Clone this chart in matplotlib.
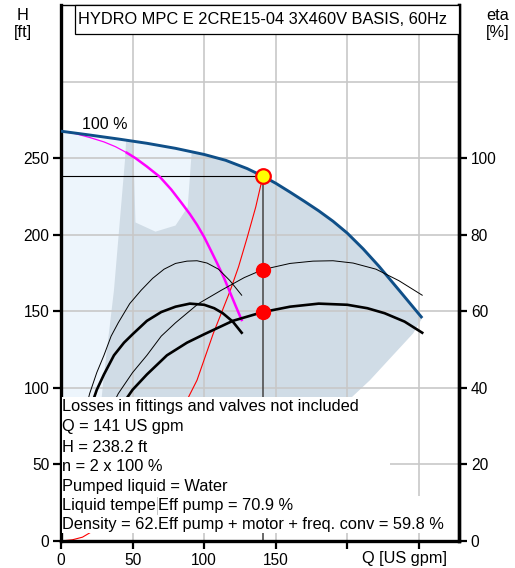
import numpy as np
import matplotlib
matplotlib.use("Agg")
import matplotlib.pyplot as plt
from matplotlib.patches import Rectangle, Polygon
from matplotlib.lines import Line2D

plt.rcParams['font.family'] = ['Liberation Sans', 'DejaVu Sans']

# ---------------- data ----------------
title = "HYDRO MPC E 2CRE15-04 3X460V BASIS, 60Hz"

# 2 pumps at 100 % (blue)
pump_q = [0, 20, 40, 60, 80, 100, 115, 130, 141, 150, 160, 170, 180, 190, 200, 211, 222, 237, 252.3]
pump_h = [267.6, 265.1, 262.5, 259.7, 256.4, 252.4, 248.6, 243.2, 238.2, 233.6, 227.8, 221.8,
          215.6, 208.8, 201, 190.8, 179.5, 162.8, 145.6]

# 1 pump at 100 % (magenta)
mag_q = [0, 10, 20, 30, 38, 46, 52, 60, 69, 77, 84, 90, 95, 100, 104, 109, 114, 118, 122, 126.2]
mag_h = [267.6, 266, 263.5, 260.6, 257.5, 253.5, 250, 244.5, 237.8, 229.5, 221, 213.5, 206.5,
         198.5, 191, 181.5, 171.5, 162.5, 153.5, 144.3]

# system curve (red)
sys_q = [0, 8, 15, 30, 45, 60, 75, 88, 95, 106.4, 118, 124, 130, 136, 141]
sys_h = [0, 0.8, 2.5, 10.8, 24.3, 43, 67, 92, 105, 135.6, 163, 179, 198, 218, 238.2]

# efficiencies [%]  (1 pump / 2 pumps)
eta_p1_q = [15, 20, 25, 30, 35, 40, 48, 56, 64, 72, 80, 88, 95, 102, 110, 118, 126.2]
eta_p1 = [31, 38.5, 44, 48.5, 53.5, 57, 62, 65.5, 68.6, 71, 72.5, 73.1, 73.2, 72.6, 71, 68, 64.2]
eta_p2_q = [30, 40, 50, 60, 70, 80, 96, 112, 128, 141, 160, 176, 190, 204, 220, 236, 252.3]
eta_p2 = [31, 38.5, 44, 48.5, 53.5, 57, 62, 65.5, 68.8, 70.9, 72.5, 73.1, 73.2, 72.6, 71, 68, 64.2]
eta_t1_q = [19, 25, 30, 37, 44, 50, 60, 70, 80, 90, 100, 107, 113, 120, 126.2]
eta_t1 = [33, 39.5, 43.5, 48.5, 51.8, 54, 57.5, 59.8, 61.2, 62, 61.7, 60.8, 59.5, 57.3, 54.4]
eta_t2_q = [38, 50, 60, 74, 88, 100, 120, 141, 160, 180, 200, 214, 226, 240, 252.3]
eta_t2 = [33, 39.5, 43.5, 48.5, 51.8, 54, 57.5, 59.8, 61.2, 62, 61.7, 60.8, 59.5, 57.3, 54.4]

# duty point
duty_q = 141
duty_h = 238.2
eff_pump = 70.9
eff_total = 59.8

# operating area boundaries
area_left_q = [27, 29.6, 37, 44.7, 45.5]
area_left_h = [80, 105, 163.8, 248.7, 261.5]
area_right_q = [252.3, 246, 228.6, 215.8, 203, 185]
area_right_h = [145.4, 135.6, 118, 105, 93.8, 80]
notch_q = [91.3, 88.5, 80, 66, 52, 50.5]
notch_h = [254, 218, 206, 202, 208, 259.5]

info_left = ["Losses in fittings and valves not included",
             "Q = 141 US gpm",
             "H = 238.2 ft",
             "n = 2 x 100 %",
             "Pumped liquid = Water",
             "Liquid tempe",
             "Density = 62."]
info_right = ["Eff pump = 70.9 %",
              "Eff pump + motor + freq. conv = 59.8 %"]

xticks = [0, 50, 100, 150, 200, 250]
xticklabels = ["0", "50", "100", "150", "", ""]
yticks = [0, 50, 100, 150, 200, 250]
eta_ticks = [0, 20, 40, 60, 80, 100]

# ---------------- figure ----------------
W, H = 515, 568
fig = plt.figure(figsize=(W / 100, H / 100), dpi=100)
ax = fig.add_axes([61 / W, (H - 541) / H, 398 / W, 536 / H])
ax.set_xlim(0, 278)
ax.set_ylim(0, 350)

c_light = '#edf5fc'
c_gray = '#d0dce6'
c_blue = '#0f4f88'

# light area under curve (left part)
lq = np.linspace(0, 60, 30)
lh = np.interp(lq, pump_q, pump_h)
ax.add_patch(Polygon(np.column_stack([np.r_[lq, 40, 0], np.r_[lh, 80, 80]]),
                     closed=True, facecolor=c_light, edgecolor='none', zorder=0.2))
# gray area
gq = np.linspace(area_left_q[-1], pump_q[-1], 80)
gh = np.interp(gq, pump_q, pump_h)
poly_q = np.r_[gq, area_right_q[1:], area_left_q]
poly_h = np.r_[gh, area_right_h[1:], area_left_h]
ax.add_patch(Polygon(np.column_stack([poly_q, poly_h]), closed=True,
                     facecolor=c_gray, edgecolor='none', zorder=0.3))
# light notch
nq = np.linspace(notch_q[-1], notch_q[0], 20)
nh = np.interp(nq, pump_q, pump_h)
ax.add_patch(Polygon(np.column_stack([np.r_[nq, notch_q[1:]], np.r_[nh, notch_h[1:]]]),
                     closed=True, facecolor=c_light, edgecolor='none', zorder=0.4))

# grid
ax.set_axisbelow(True)
ax.xaxis.remove_overlapping_locs = False
ax.yaxis.remove_overlapping_locs = False
ax.set_xticks([50, 100, 150, 200, 250], minor=True)
ax.set_yticks([50, 100, 150, 200, 250, 300], minor=True)
ax.grid(which='minor', color='#c8c8c8', lw=1.2)
ax.grid(which='major', visible=False)
ax.tick_params(which='minor', length=0)

# curves
ax.plot(sys_q, sys_h, color='red', lw=0.8, zorder=2)
ax.plot([0, duty_q], [duty_h, duty_h], color='black', lw=0.8, zorder=2)
ax.plot([duty_q, duty_q], [0, duty_h], color='#505050', lw=1.2, zorder=2)
ax.plot(mag_q[:6], mag_h[:6], color='#ff00ff', lw=0.9, zorder=2.5)
ax.plot(mag_q[5:], mag_h[5:], color='#ff00ff', lw=1.8, zorder=2.5)
ax.plot(pump_q, pump_h, color=c_blue, lw=2.1, zorder=3, solid_capstyle='butt')
ax.text(14.7, 272, "100 %", fontsize=11.5, ha='left', va='center')

# spines / ticks
for s in ['left', 'bottom', 'right']:
    ax.spines[s].set_linewidth(2.4)
ax.spines['top'].set_linewidth(1.0)
ax.set_xticks(xticks)
ax.set_xticklabels(xticklabels)
ax.set_yticks(yticks)
ax.tick_params(which='major', direction='out', length=5.5, width=1.6, labelsize=11.2, pad=3)

ax2 = ax.twinx()
ax2.set_ylim(0, 140)
ax2.set_yticks(eta_ticks)
ax2.tick_params(which='major', direction='out', length=5.5, width=1.6, labelsize=11.2, pad=3)
for s in ['left', 'bottom', 'top']:
    ax2.spines[s].set_visible(False)
ax2.spines['right'].set_linewidth(2.4)

ax2.plot(eta_p1_q, eta_p1, color='black', lw=0.7, zorder=2)
ax2.plot(eta_p2_q, eta_p2, color='black', lw=0.7, zorder=2)
ax2.plot(eta_t1_q, eta_t1, color='black', lw=1.9, zorder=2)
ax2.plot(eta_t2_q, eta_t2, color='black', lw=1.9, zorder=2)
ax2.plot([duty_q, duty_q], [eff_pump, eff_total], ls='none', marker='o', ms=10,
         color='red', mec='red', zorder=5)
ax2.plot([duty_q], [duty_h / 2.5], ls='none', marker='o', ms=10.5, mfc='#ffff00',
         mec='red', mew=1.6, zorder=6)

# axis unit labels
fs = 11.8
fig.text(23 / W, 1 - 16 / H, "H", ha='center', va='center', fontsize=fs)
fig.text(23 / W, 1 - 32 / H, "[ft]", ha='center', va='center', fontsize=fs)
fig.text(498 / W, 1 - 16 / H, "eta", ha='center', va='center', fontsize=fs)
fig.text(498 / W, 1 - 32 / H, "[%]", ha='center', va='center', fontsize=fs)
fig.text(405 / W, 1 - 559 / H, "Q [US gpm]", ha='center', va='center', fontsize=fs)

# title box
fig.add_artist(Rectangle((75 / W, 1 - 33.5 / H), 384 / W, 28.5 / H, transform=fig.transFigure,
                         facecolor='white', edgecolor='black', lw=0.9, zorder=2))
fig.text(263 / W, 1 - 19.5 / H, title, ha='center', va='center', fontsize=fs, zorder=3)

# info boxes
fig.add_artist(Rectangle((61.8 / W, 1 - 533 / H), (390 - 61.8) / W, (533 - 397) / H,
                         transform=fig.transFigure, facecolor='white', edgecolor='none', zorder=1))
ys = [407, 427, 447, 466.5, 486, 505.5, 525]
for t, y in zip(info_left, ys):
    fig.text(62 / W, 1 - y / H, t, ha='left', va='center', fontsize=fs, zorder=2)
fig.add_artist(Rectangle((157 / W, 1 - 533 / H), (447 - 157) / W, (533 - 496) / H,
                         transform=fig.transFigure, facecolor='white', edgecolor='none', zorder=2.5))
fig.add_artist(Line2D([157 / W, 157 / W], [1 - 514 / H, 1 - 497 / H], transform=fig.transFigure,
                      color='#bbbbbb', lw=0.6, zorder=2.6))
for t, y in zip(info_right, ys[-2:]):
    fig.text(158 / W, 1 - y / H, t, ha='left', va='center', fontsize=fs, zorder=3)

fig.savefig("out.png", dpi=100)
